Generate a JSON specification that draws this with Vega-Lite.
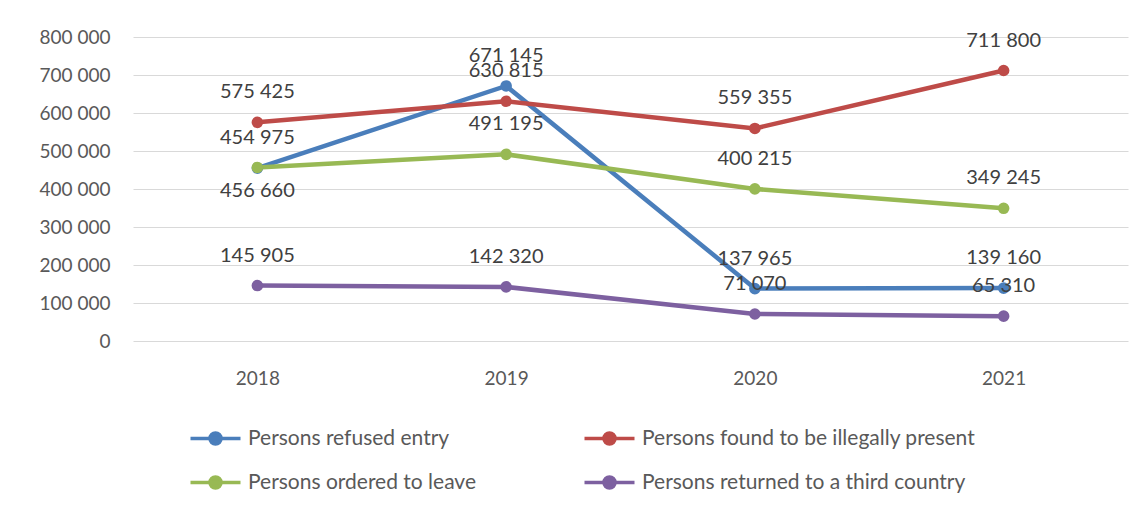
{
  "$schema": "https://vega.github.io/schema/vega-lite/v6.json",
  "width": 995,
  "height": 304,
  "autosize": {"type": "none"},
  "padding": {"left": 133, "top": 37, "right": 15, "bottom": 167},
  "background": "white",
  "config": {
    "locale": {"number": {"decimal": ",", "thousands": " ", "grouping": [3], "currency": ["", ""]}},
    "view": {"stroke": null},
    "font": "Lato"
  },
  "data": {
    "values": [
      {"series": "Persons refused entry", "year": "2018", "value": 454975},
      {"series": "Persons refused entry", "year": "2019", "value": 671145},
      {"series": "Persons refused entry", "year": "2020", "value": 137965},
      {"series": "Persons refused entry", "year": "2021", "value": 139160},
      {"series": "Persons found to be illegally present", "year": "2018", "value": 575425},
      {"series": "Persons found to be illegally present", "year": "2019", "value": 630815},
      {"series": "Persons found to be illegally present", "year": "2020", "value": 559355},
      {"series": "Persons found to be illegally present", "year": "2021", "value": 711800},
      {"series": "Persons ordered to leave", "year": "2018", "value": 456660},
      {"series": "Persons ordered to leave", "year": "2019", "value": 491195},
      {"series": "Persons ordered to leave", "year": "2020", "value": 400215},
      {"series": "Persons ordered to leave", "year": "2021", "value": 349245},
      {"series": "Persons returned to a third country", "year": "2018", "value": 145905},
      {"series": "Persons returned to a third country", "year": "2019", "value": 142320},
      {"series": "Persons returned to a third country", "year": "2020", "value": 71070},
      {"series": "Persons returned to a third country", "year": "2021", "value": 65310}
    ]
  },
  "encoding": {
    "x": {
      "field": "year", "type": "ordinal",
      "scale": {"type": "point", "padding": 0.5},
      "axis": {"title": null, "domain": false, "ticks": false, "grid": false, "labelAngle": 0,
               "labelPadding": 28, "labelFont": "Lato", "labelFontSize": 19, "labelColor": "#595959"}
    },
    "y": {
      "field": "value", "type": "quantitative",
      "scale": {"domain": [0, 800000], "nice": false},
      "axis": {"title": null, "domain": false, "ticks": false, "grid": true, "gridColor": "#d9d9d9", "gridWidth": 1,
               "values": [0, 100000, 200000, 300000, 400000, 500000, 600000, 700000, 800000],
               "format": ",d", "labelPadding": 23, "labelFont": "Lato", "labelFontSize": 19, "labelColor": "#595959"}
    },
    "color": {
      "field": "series", "type": "nominal",
      "scale": {
        "domain": ["Persons refused entry", "Persons found to be illegally present", "Persons ordered to leave", "Persons returned to a third country"],
        "range": ["#4a7ebb", "#be4b48", "#98b954", "#7d60a0"]
      },
      "legend": {
        "orient": "none", "legendX": 52, "legendY": 391, "columns": 2, "title": null,
        "values": ["Persons refused entry", "Persons ordered to leave", "Persons found to be illegally present", "Persons returned to a third country"],
        "symbolType": "M-1,0H9M2.9,0A1.1,1.1,0,1,1,5.1,0A1.1,1.1,0,1,1,2.9,0Z",
        "symbolSize": 100, "symbolStrokeWidth": 3.5, "labelOffset": 42, "labelLimit": 500,
        "labelFont": "Lato", "labelFontSize": 21, "labelColor": "#595959",
        "rowPadding": 19, "columnPadding": 101,
        "encode": {"symbols": {"update": {
          "fill": {"scale": "color", "field": "value"},
          "stroke": {"scale": "color", "field": "value"},
          "opacity": {"value": 1}
        }}}
      }
    }
  },
  "layer": [
    {"mark": {"type": "line", "strokeWidth": 4.5}},
    {"mark": {"type": "point", "filled": true, "size": 135, "opacity": 1}},
    {
      "transform": [{"filter": "!(datum.series == 'Persons ordered to leave' && datum.year == '2018')"}],
      "mark": {"type": "text", "dy": -30, "font": "Lato", "fontSize": 20, "color": "#404040"},
      "encoding": {"text": {"field": "value", "type": "quantitative", "format": ",d"}, "color": {"value": "#404040"}}
    },
    {
      "transform": [{"filter": "datum.series == 'Persons ordered to leave' && datum.year == '2018'"}],
      "mark": {"type": "text", "dy": 24, "font": "Lato", "fontSize": 20, "color": "#404040"},
      "encoding": {"text": {"field": "value", "type": "quantitative", "format": ",d"}, "color": {"value": "#404040"}}
    }
  ]
}
